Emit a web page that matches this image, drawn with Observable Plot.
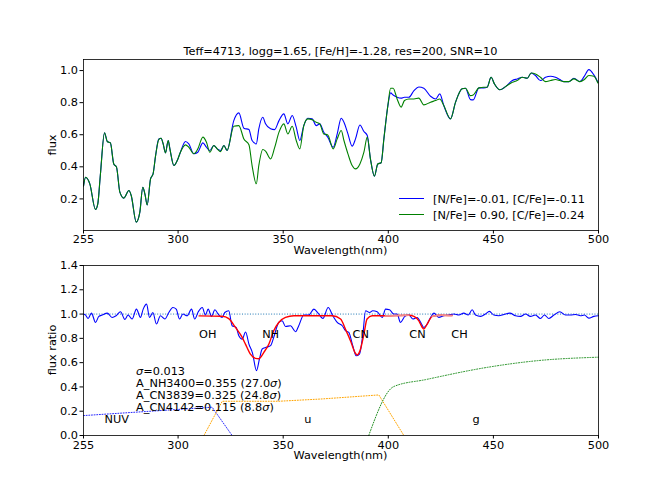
<!DOCTYPE html>
<html><head><meta charset="utf-8">
<script src="https://cdn.jsdelivr.net/npm/d3@7"></script>
<script src="https://cdn.jsdelivr.net/npm/@observablehq/plot@0.6"></script>
<style>
body{margin:0;background:#fff;font-family:"DejaVu Sans",sans-serif;}
#wrap{position:relative;width:664px;height:498px;overflow:hidden;background:#fff;}
.lab{position:absolute;font-size:11.3px;color:#000;white-space:pre;line-height:0.6;}
</style></head><body><div id="wrap"></div>
<script>
const title = "Teff=4713, logg=1.65, [Fe/H]=-1.28, res=200, SNR=10";
const xLabel = "Wavelength(nm)";
const topYLabel = "flux";
const botYLabel = "flux ratio";
const xTicks = [255, 300, 350, 400, 450, 500];
const topYTicks = [0.2, 0.4, 0.6, 0.8, 1.0];
const botYTicks = [0.0, 0.2, 0.4, 0.6, 0.8, 1.0, 1.2, 1.4];
const seriesNames = ["[N/Fe]=-0.01, [C/Fe]=-0.11", "[N/Fe]= 0.90, [C/Fe]=-0.24"];
const seriesColors = ["#0000ff", "#008000"];

const specWl = [
 255, 256, 258, 260.7, 261.8, 263, 265, 266.3, 267.8, 269.4,
 270.7, 272.3, 274.2, 276.6, 277.7, 280.1, 281.8, 283.2, 284.2, 285.3,
 286.9, 288.1, 289.3, 290.8, 291.9, 292.9, 294, 295.3, 296.1, 298,
 299.6, 301.1, 303.5, 305.1, 307.5, 309.4, 311.8, 313.5, 315.1, 317,
 318.6, 320.2, 321.8, 323.3, 326.5, 328.9, 331.3, 333.7, 335.2, 337.2,
 338.4, 340.3, 341.6, 344, 345.9, 348, 350.3, 352.2, 354.3, 356.2,
 357.9, 359.8, 361.7, 363.8, 365.7, 367.4, 369.3, 371.2, 373.8, 375.7,
 377.6, 378.9, 380.8, 382.8, 384.4, 386.5, 388.4, 390, 391.5, 393.4,
 395, 396.6, 397.9, 399.8, 401.1, 402.3, 404.2, 406.1, 407.7, 409.8,
 412.2, 414.5, 416.9, 420.1, 422.5, 424.5, 426.4, 429.6, 432, 435.1,
 436.7, 439.1, 440.4, 443.1, 445.4, 447, 448.9, 450.5, 453.1, 455.8,
 459, 461.3, 463.7, 466.1, 468, 470, 472.4, 474.8, 477.2, 479.5,
 481.6, 483.5, 485.9, 488.3, 491.1, 493.3, 495.4, 497.8, 499.7];
const fluxN001 = [
 0.28, 0.335, 0.294, 0.134, 0.169, 0.346, 0.612, 0.558, 0.549, 0.418,
 0.398, 0.242, 0.205, 0.252, 0.221, 0.055, 0.117, 0.273, 0.232, 0.163,
 0.325, 0.356, 0.470, 0.574, 0.578, 0.543, 0.487, 0.564, 0.512, 0.408,
 0.439, 0.491, 0.558, 0.543, 0.481, 0.491, 0.549, 0.522, 0.502, 0.533,
 0.512, 0.502, 0.533, 0.502, 0.688, 0.736, 0.641, 0.632, 0.564, 0.543,
 0.637, 0.709, 0.668, 0.637, 0.632, 0.688, 0.730, 0.668, 0.720, 0.647,
 0.564, 0.657, 0.703, 0.699, 0.657, 0.668, 0.616, 0.585, 0.522, 0.605,
 0.703, 0.678, 0.605, 0.529, 0.574, 0.661, 0.620, 0.595, 0.450, 0.342,
 0.418, 0.425, 0.574, 0.782, 0.861, 0.848, 0.834, 0.828, 0.834, 0.834,
 0.875, 0.898, 0.890, 0.840, 0.823, 0.855, 0.782, 0.699, 0.803, 0.886,
 0.890, 0.819, 0.817, 0.892, 0.892, 0.896, 0.958, 0.917, 0.880, 0.900,
 0.938, 0.948, 0.958, 0.952, 0.985, 0.969, 0.938, 0.958, 0.965, 0.958,
 0.944, 0.931, 0.931, 0.952, 0.931, 0.965, 1.006, 0.973, 0.927];
const fluxN090 = [
 0.28, 0.335, 0.294, 0.134, 0.169, 0.346, 0.612, 0.558, 0.549, 0.418,
 0.398, 0.242, 0.205, 0.252, 0.221, 0.055, 0.117, 0.273, 0.232, 0.163,
 0.325, 0.356, 0.470, 0.570, 0.578, 0.543, 0.487, 0.564, 0.512, 0.408,
 0.439, 0.491, 0.537, 0.522, 0.481, 0.512, 0.585, 0.553, 0.491, 0.533,
 0.512, 0.495, 0.533, 0.502, 0.653, 0.657, 0.574, 0.537, 0.408, 0.294,
 0.408, 0.508, 0.498, 0.449, 0.518, 0.616, 0.668, 0.605, 0.653, 0.564,
 0.512, 0.657, 0.699, 0.693, 0.678, 0.668, 0.605, 0.599, 0.512, 0.574,
 0.626, 0.564, 0.481, 0.408, 0.387, 0.418, 0.491, 0.585, 0.450, 0.342,
 0.418, 0.425, 0.574, 0.782, 0.890, 0.890, 0.823, 0.772, 0.813, 0.823,
 0.823, 0.828, 0.786, 0.803, 0.813, 0.823, 0.782, 0.699, 0.803, 0.886,
 0.890, 0.844, 0.848, 0.892, 0.896, 0.896, 0.958, 0.917, 0.880, 0.900,
 0.927, 0.938, 0.958, 0.952, 0.985, 0.979, 0.958, 0.931, 0.938, 0.944,
 0.938, 0.931, 0.931, 0.948, 0.931, 0.944, 0.969, 0.965, 0.923];

const ratioWl = [
 255, 256, 257.2, 258.8, 260.7, 262.3, 263.9, 266.3, 268.6, 270.5,
 272.6, 274.7, 276.2, 278.1, 280.2, 282.1, 283.4, 285, 286.4, 288,
 289.7, 291.6, 293.7, 295.6, 297.5, 299.1, 300.7, 302.3, 304.3, 306.4,
 307.9, 309.6, 311.5, 313, 314.3, 315.9, 317.5, 319.1, 321, 322.2,
 324.1, 325.7, 327.6, 328.9, 330.5, 332.1, 333.7, 335.4, 337.3, 338.7,
 340, 341.9, 344, 345.5, 347.9, 349.5, 351.1, 353.5, 355.9, 357.4,
 359.8, 362.2, 364.6, 366.6, 368.9, 371.4, 373.6, 375.7, 378.1, 379.6,
 381.2, 383.1, 384.7, 386.3, 387.9, 389.2, 391.1, 392.6, 394.7, 397.1,
 398.7, 400.6, 402.6, 404.2, 405.8, 407.9, 409.8, 411.7, 413.7, 415.8,
 416.9, 418.5, 420.1, 421.7, 424, 426.4, 428.8, 431.2, 433.6, 435.9,
 438, 439.9, 441.5, 443.9, 446.2, 448.1, 450.2, 452.6, 455, 457.8,
 460.5, 462.9, 465.3, 467.6, 470, 472.4, 474.3, 476.4, 478.8, 481.6,
 484.3, 486.7, 489.1, 491.4, 493.3, 495.4, 497.8, 500];
const ratio = [
 1.000, 0.992, 0.964, 1.008, 0.931, 0.981, 0.992, 1.008, 0.972, 0.986,
 1.019, 0.956, 0.992, 0.959, 1.041, 0.972, 1.041, 1.082, 0.972, 1.013,
 0.918, 0.986, 0.959, 1.013, 1.054, 1.041, 0.959, 1.000, 0.986, 1.041,
 0.959, 1.019, 1.054, 0.992, 1.041, 0.981, 1.035, 1.000, 0.972, 1.013,
 1.027, 0.904, 0.890, 0.822, 0.794, 0.852, 0.753, 0.679, 0.534, 0.630,
 0.712, 0.726, 0.740, 0.808, 0.931, 0.945, 0.898, 0.904, 0.855, 0.904,
 0.992, 0.992, 1.041, 1.008, 0.964, 1.054, 0.986, 0.931, 0.904, 0.863,
 0.849, 0.740, 0.657, 0.671, 0.835, 1.027, 1.013, 1.027, 1.019, 0.972,
 1.041, 1.035, 1.000, 1.000, 0.931, 0.981, 0.992, 0.959, 0.972, 0.918,
 0.890, 0.918, 0.972, 1.008, 0.973, 0.986, 0.992, 1.000, 0.992, 1.008,
 0.992, 1.035, 0.992, 0.981, 1.000, 1.022, 0.992, 0.986, 0.997, 1.008,
 0.986, 0.981, 1.000, 0.981, 0.992, 0.964, 0.992, 0.964, 0.992, 1.019,
 0.992, 0.992, 0.997, 0.986, 0.992, 0.967, 0.981, 0.986];

const fitWl = [
 310, 321, 324.1, 327.3, 330.5, 332.1, 334.4, 336.8, 338.4, 340.8,
 343.2, 345.5, 347.9, 351.1, 355.1, 363.8, 373.3, 377.3, 379.6, 382,
 384.1, 385.2, 386.8, 388.4, 389.9, 392.3, 398.7, 409.8, 412.2, 414.5,
 415.3, 416.9, 418.5, 420.9, 424.8, 430.4];
const fitRatio = [
 0.985, 0.982, 0.962, 0.890, 0.808, 0.750, 0.670, 0.635, 0.632, 0.685,
 0.753, 0.863, 0.931, 0.972, 0.986, 0.986, 0.986, 0.959, 0.876, 0.781,
 0.685, 0.663, 0.712, 0.835, 0.959, 0.986, 0.986, 0.990, 0.981, 0.945,
 0.918, 0.877, 0.918, 0.981, 0.990, 0.988];
const fitFaintRanges = [[398.7, 409.8], [420.9, 430.4]];

const nuvWl = [255, 316.2, 325.7];
const nuvT = [0.164, 0.233, 0];
const uWl = [312.3, 321, 347.9, 368.5, 395.5, 407.4];
const uT = [0, 0.282, 0.282, 0.301, 0.334, 0];
const gWl = [390.7, 402.6, 417.7, 447, 470.8, 500];
const gT = [0, 0.403, 0.460, 0.561, 0.616, 0.645];

const bandNames = ["OH", "NH", "CN", "CN", "CH"];
const bandWl = [310, 340, 383, 410, 430];
const bandY = [0.8, 0.8, 0.8, 0.8, 0.8];
const filterNames = ["NUV", "u", "g"];
const filterLabelWl = [265, 360, 440];
const filterLabelY = [0.1, 0.1, 0.1];
const statLines = ["σ=0.013", "A_NH3400=0.355 (27.0σ)", "A_CN3839=0.325 (24.8σ)", "A_CN4142=0.115 (8.8σ)"];
const statWl = [280, 280, 280, 280];
const statY = [0.5, 0.4, 0.3, 0.2];

const FS = "11.3px";
const baseStyle = {fontFamily: "DejaVu Sans", fontSize: FS, background: "transparent", overflow: "visible", color: "#000"};
const dotted = "1,1.65";

const spec = specWl.map((w, i) => ({w, a: fluxN001[i], b: fluxN090[i]}));
const rat = ratioWl.map((w, i) => ({w, r: ratio[i]}));
const fit = fitWl.map((w, i) => ({w, r: fitRatio[i]}));
const fitFaint = fitFaintRanges.flatMap(([a, b], k) => fit.filter(d => d.w >= a && d.w <= b).map(d => ({...d, k})));
const nuv = nuvWl.map((w, i) => ({w, t: nuvT[i]}));
const uf = uWl.map((w, i) => ({w, t: uT[i]}));
const gf = gWl.map((w, i) => ({w, t: gT[i]}));
const bands = bandNames.map((n, i) => ({n, w: bandWl[i], y: bandY[i]}));
const flabels = filterNames.map((n, i) => ({n, w: filterLabelWl[i], y: filterLabelY[i]}));
const stats = statLines.map((n, i) => ({n, w: statWl[i], y: statY[i]}));

const axX = (pad) => Plot.axisX({ticks: xTicks, tickSize: 3.5, tickPadding: pad, label: null, tickFormat: d => String(d)});
const axY = (t) => Plot.axisY({ticks: t, tickSize: 3.5, tickPadding: 2, label: null, tickFormat: d3.format(".1f")});

const p1 = Plot.plot({
  width: 664, height: 262, marginLeft: 83, marginRight: 66, marginTop: 59, marginBottom: 32,
  style: baseStyle,
  x: {domain: [255, 500]},
  y: {domain: [0.003, 1.069]},
  marks: [
    Plot.line(spec, {x: "w", y: "a", stroke: seriesColors[0], strokeWidth: 1.1, curve: "monotone-x"}),
    Plot.line(spec, {x: "w", y: "b", stroke: seriesColors[1], strokeWidth: 1.1, curve: "monotone-x"}),
    Plot.frame({stroke: "#000", strokeWidth: 0.8}),
    axX(1),
    axY(topYTicks)
  ]
});

const p2 = Plot.plot({
  width: 664, height: 258, marginLeft: 83, marginRight: 66, marginTop: 25, marginBottom: 63,
  style: baseStyle,
  x: {domain: [255, 500]},
  y: {domain: [0, 1.4]},
  marks: [
    Plot.ruleY([1], {stroke: "#1f77b4", strokeWidth: 1, strokeDasharray: dotted}),
    Plot.line(nuv, {x: "w", y: "t", stroke: "#2a2aff", strokeWidth: 1, strokeDasharray: dotted}),
    Plot.line(uf, {x: "w", y: "t", stroke: "#ffa500", strokeWidth: 1, strokeDasharray: dotted}),
    Plot.line(gf, {x: "w", y: "t", stroke: "#1f8f1f", strokeWidth: 1, strokeDasharray: dotted, curve: "monotone-x"}),
    Plot.line(rat, {x: "w", y: "r", stroke: "#0000ff", strokeWidth: 1.1, curve: "monotone-x"}),
    Plot.line(fit, {x: "w", y: "r", stroke: "#ff0000", strokeWidth: 1.4, curve: "monotone-x"}),
    Plot.line(fitFaint, {x: "w", y: "r", z: "k", stroke: "#f08a8a", strokeWidth: 1.6, curve: "monotone-x"}),
    Plot.text(bands, {x: "w", y: "y", text: "n", textAnchor: "start", lineAnchor: "bottom"}),
    Plot.text(flabels, {x: "w", y: "y", text: "n", textAnchor: "start", lineAnchor: "bottom"}),
    Plot.text(stats, {x: "w", y: "y", text: "n", textAnchor: "start", lineAnchor: "bottom"}),
    Plot.frame({stroke: "#000", strokeWidth: 0.8}),
    axX(1.5),
    axY(botYTicks)
  ]
});

p2.querySelectorAll("text").forEach(t => {
  if (t.children.length === 0 && t.textContent.includes("σ")) {
    t.innerHTML = t.textContent.replace(/σ/g, '<tspan font-style="italic">σ</tspan>');
  }
});

const wrap = document.getElementById("wrap");
[[p1, 0], [p2, 240]].forEach(([p, top]) => {
  p.style.position = "absolute"; p.style.left = "0px"; p.style.top = top + "px";
  wrap.appendChild(p);
});

function addLabel(text, cx, cy, rot) {
  const d = document.createElement("div");
  d.className = "lab";
  d.textContent = text;
  d.style.left = cx + "px"; d.style.top = cy + "px";
  d.style.transform = "translate(-50%,-50%)" + (rot ? " rotate(-90deg)" : "");
  wrap.appendChild(d);
}
addLabel(title, 340.5, 51.9, false);
addLabel(xLabel, 340.5, 251, false);
addLabel(xLabel, 340.5, 456.4, false);
addLabel(topYLabel, 52.5, 144.5, true);
addLabel(botYLabel, 52.5, 350, true);

// legend
const leg = document.createElement("div");
leg.style.position = "absolute"; leg.style.left = "399px"; leg.style.top = "190px";
seriesNames.forEach((name, i) => {
  const row = document.createElement("div");
  row.style.cssText = "display:flex;align-items:center;height:16px;";
  const sw = document.createElement("div");
  sw.style.cssText = `width:25px;height:0;border-top:1.3px solid ${seriesColors[i]};margin-right:9px;`;
  const tx = document.createElement("span");
  tx.style.cssText = "font-size:11.3px;white-space:pre;line-height:1;position:relative;top:1.3px;";
  tx.textContent = name;
  row.appendChild(sw); row.appendChild(tx);
  leg.appendChild(row);
});
wrap.appendChild(leg);
</script></body></html>
